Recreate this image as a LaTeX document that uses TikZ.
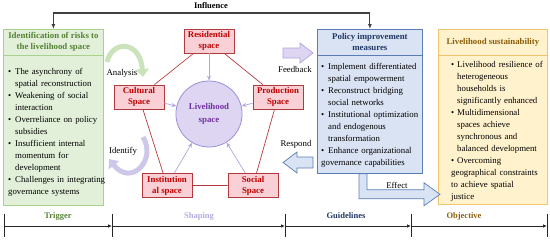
\documentclass[tikz,border=0pt]{standalone}
\usepackage{fontspec}
\setmainfont{Liberation Serif}
\usetikzlibrary{arrows.meta,shapes.geometric}
\definecolor{grF}{HTML}{E2F0D9}
\definecolor{grD}{HTML}{A9D18E}
\definecolor{grT}{HTML}{548235}
\definecolor{spcF}{HTML}{F8D0D5}
\definecolor{spcD}{HTML}{B23A3E}
\definecolor{spcT}{HTML}{C00000}
\definecolor{livF}{HTML}{DDD5F2}
\definecolor{livD}{HTML}{9C8FD6}
\definecolor{livT}{HTML}{7030A0}
\definecolor{polF}{HTML}{DAE3F3}
\definecolor{polD}{HTML}{5A7DB5}
\definecolor{polT}{HTML}{1F3864}
\definecolor{gdF}{HTML}{FFF2CC}
\definecolor{gdD}{HTML}{F2C46D}
\definecolor{gdT}{HTML}{8B5E0B}
\newcommand{\bitem}[2][7pt]{\par\noindent\hangindent=#1\hangafter=1\makebox[#1][l]{\textbullet}#2}
\newcommand{\fs}[1]{\fontsize{8.8}{#1}\selectfont}
\tikzset{
  panel/.style={draw, line width=0.8pt, anchor=north west, inner sep=0pt},
  ttl/.style={align=center, font=\bfseries\fs{11}},
  lst/.style={anchor=north west, inner sep=0pt, text width=100pt, align=left, font=\fs{12}},
  spc/.style={draw=spcD, fill=spcF, line width=0.8pt, minimum width=50pt, minimum height=24pt, inner sep=1pt, align=center, text=spcT, font=\bfseries\fs{11}},
  pent/.style={draw=spcD, line width=0.7pt},
  feed/.style={draw=livD!80, line width=0.7pt, -{Stealth[length=5pt,width=4pt]}},
  curvarr/.style={line width=5pt, -{Triangle[length=8pt,width=13pt]}},
  lab/.style={font=\fs{11}},
  phase/.style={font=\bfseries\fontsize{8.5}{10}\selectfont},
  tl/.style={line width=1pt, draw=black!85}
}
\begin{document}
\begin{tikzpicture}[x=1pt, y=-1pt]
\useasboundingbox (0,0) rectangle (550,241);
\node[panel, draw=grD, fill=grF, minimum width=100pt, minimum height=176pt] (trig) at (3,29) {};
\draw[grD, line width=0.8pt] ([yshift=-26pt]trig.north west) -- ([yshift=-26pt]trig.north east);
\node[ttl, text=grT] (trigT) at ([yshift=-13pt]trig.north) {Identification of risks to\\the livelihood space};
\node[lst] (trigL) at (8,62) {\bitem{The asynchrony of\newline spatial reconstruction}
  \bitem{Weakening of social\newline interaction}
  \bitem{Overreliance on policy\newline subsidies}
  \bitem{Insufficient internal\newline momentum for\newline development}
  \bitem{Challenges in integrating\newline governance systems}};

\node[panel, draw=polD, fill=polF, minimum width=105pt, minimum height=144pt] (pol) at (317,29) {};
\draw[polD, line width=0.8pt] ([yshift=-26pt]pol.north west) -- ([yshift=-26pt]pol.north east);
\node[ttl, text=polT] (polT) at ([yshift=-13pt]pol.north) {Policy improvement\\measures};
\node[lst] (polL) at (321,57) {\bitem{Implement differentiated\newline spatial empowerment}
  \bitem{Reconstruct bridging\newline social networks}
  \bitem{Institutional optimization\newline and endogenous\newline transformation}
  \bitem{Enhance organizational\newline governance capabilities}};

\node[panel, draw=gdD, fill=gdF, minimum width=109pt, minimum height=175pt] (sust) at (438,29) {};
\draw[gdD, line width=0.8pt] ([yshift=-26pt]sust.north west) -- ([yshift=-26pt]sust.north east);
\node[ttl, text=gdT] (sustT) at ([yshift=-13pt]sust.north) {Livelihood sustainability};
\node[lst] (sustL) at (451,55) {\bitem[6pt]{Livelihood resilience of\newline heterogeneous\newline households is\newline significantly enhanced}
  \bitem[6pt]{Multidimensional\newline spaces achieve\newline synchronous and\newline balanced development}
  \bitem[6pt]{Overcoming\newline geographical constraints\newline to achieve spatial\newline justice}};

\node[spc] (res) at (209,41) {Residential\\space};
\node[spc] (cul) at (139,97) {Cultural\\Space};
\node[spc] (pro) at (278,97) {Production\\Space};
\node[spc] (ins) at (167,185.5) {Institution\\al space};
\node[spc] (soc) at (253,185.5) {Social\\Space};
\node[ellipse, draw=livD, fill=livF, line width=0.8pt, minimum width=54pt, minimum height=66pt, align=center, text=livT, font=\bfseries\fs{13}] (liv) at (209,114) {Livelihood\\space};
\draw[pent] (res) -- (cul) -- (ins) -- (soc) -- (pro) -- (res);
\foreach \s in {res,cul,pro,ins,soc} \draw[feed] (\s) -- (liv);

\coordinate (anA) at (107,62);
\coordinate (anB) at (143,77);
\draw[curvarr, draw=grD!60] (anA) .. controls (112,40) and (140,40) .. (anB);
\node[lab] (anL) at (122,73) {Analysis};
\coordinate (idA) at (143,137);
\coordinate (idB) at (109,159);
\draw[curvarr, draw=livD!50] (idA) .. controls (157,160) and (131,187) .. (idB);
\node[lab] (idL) at (123,151) {Identify};

\draw[draw=livD!80, fill=livF, line width=0.7pt] (283,48) -- (300,48) -- (300,43) -- (313,53) -- (300,63) -- (300,58) -- (283,58) -- cycle;
\node[lab] (fbL) at (295,69) {Feedback};
\draw[draw=polD, fill=polF, line width=0.7pt] (313,157) -- (297,157) -- (297,152) -- (283,162.5) -- (297,173) -- (297,168) -- (313,168) -- cycle;
\node[lab] (rsL) at (296,144) {Respond};
\draw[draw=polD, fill=polF, line width=0.7pt] ([xshift=42pt]pol.south west) -- ++(0,25) -- ++(65,0) -- ++(0,7) -- ++(16,-11.5) -- ++(-16,-11.5) -- ++(0,7) -- ++(-57,0) -- ++(0,-16) -- cycle;
\node[lab] (efL) at (397,185) {Effect};

\draw[line width=1.1pt, draw=black!75, {Latex[length=5pt,width=4pt]}-{Latex[length=5pt,width=4pt]}] (trig.north) -- ++(0,-16) -| (pol.north);
\node[phase] (inf) at (211,6) {Influence};

\coordinate (t1) at (4,226);
\coordinate (t2) at (112,226);
\coordinate (t3) at (285,226);
\coordinate (t4) at (411,226);
\coordinate (t5) at (547,226);
\foreach \t in {t1,t2,t3,t4,t5} \draw[tl] (\t) ++(0,-12) -- ++(0,23);
\draw[tl, -{Latex[length=4pt,width=3.5pt]}] (t1) -- (t2);
\draw[tl, -{Latex[length=4pt,width=3.5pt]}] (t2) -- (t3);
\draw[tl, -{Latex[length=4pt,width=3.5pt]}] (t3) -- (t4);
\draw[tl, -{Latex[length=4pt,width=3.5pt]}] (t4) -- (t5);
\node[phase, text=grT] (ph1) at (58,216) {Trigger};
\node[phase, text=livD!75] (ph2) at (199,216) {Shaping};
\node[phase, text=polT] (ph3) at (346,216) {Guidelines};
\node[phase, text=gdT] (ph4) at (464,216) {Objective};
\end{tikzpicture}
\end{document}
